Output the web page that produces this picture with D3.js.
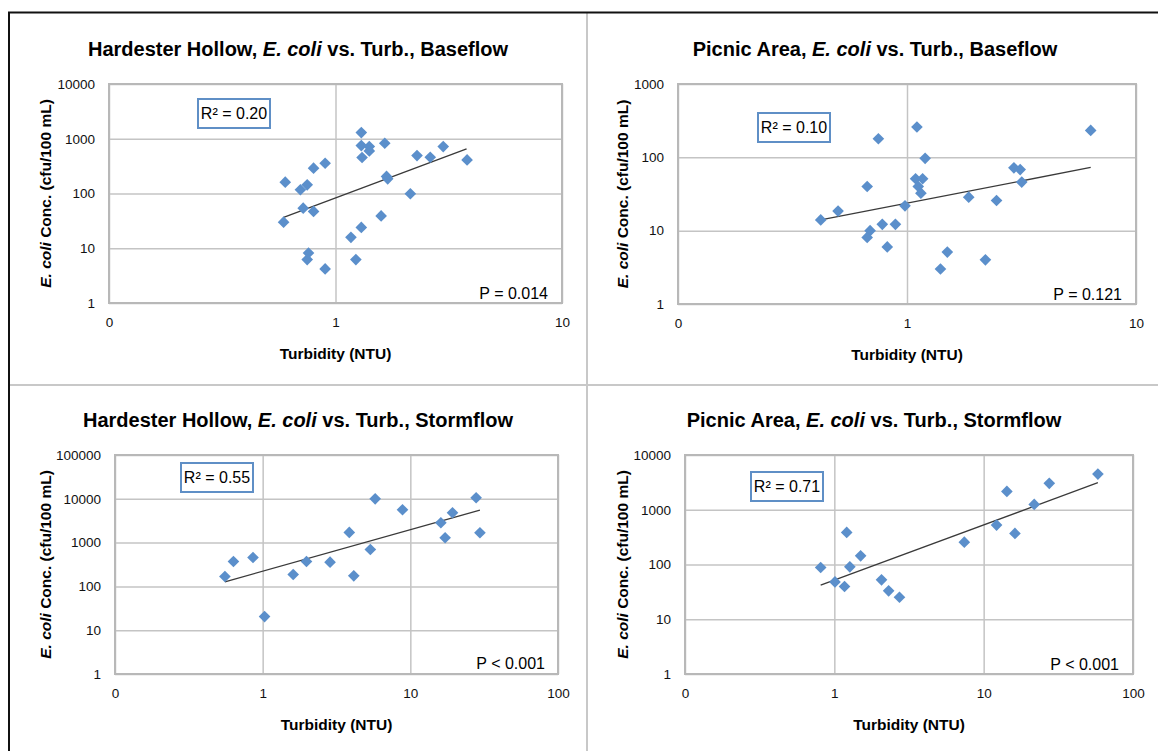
<!DOCTYPE html>
<meta charset="utf-8">
<style>
  body { margin: 0; background: #fff; }
  svg { font-family: "Liberation Sans Narrow", "Arial Narrow", "Liberation Sans", sans-serif; }
  .grid line { stroke: #c4c4c4; stroke-width: 1.5px; }
  .grid path { display: none; }
  .tick text { font-size: 13.5px; fill: #111; }
  .plotframe { fill: none; stroke: #b8b8b8; stroke-width: 2px; }
  .pt { fill: #5b8fcb; }
  .trend { stroke: #3a3a3a; stroke-width: 1.3px; }
  .title { font-size: 20px; font-weight: bold; }
  .axtitle { font-size: 15.5px; font-weight: bold; }
  .note { font-size: 16px; }
  .r2box { fill: #fff; stroke: #5f8fc6; stroke-width: 2px; }
</style>
<body>
<script src="https://cdn.jsdelivr.net/npm/d3@7"></script>
<script>

// Hardester Hollow, baseflow
var hhBaseTurb  = [0.60, 0.59, 0.70, 0.75, 0.72, 0.80, 0.80, 0.90, 0.76, 0.75, 0.90, 1.30, 1.30, 1.31, 1.41, 1.41, 1.65, 1.68, 1.70, 1.59, 1.30, 1.17, 1.23, 2.14, 2.29, 2.62, 2.99, 3.81];
var hhBaseEcoli = [161, 30, 117, 144, 54, 290, 47, 357, 8.2, 6.2, 4.2, 1294, 750, 454, 720, 600, 828, 205, 185, 39, 24, 15.8, 6.2, 99, 493, 460, 720, 411];
var hhBaseTrend = [[0.59, 36.5], [3.79, 653]];

// Picnic Area, baseflow
var paBaseTurb  = [0.42, 0.50, 0.67, 0.75, 0.69, 0.67, 0.78, 0.89, 0.82, 0.98, 1.105, 1.20, 1.09, 1.17, 1.12, 1.15, 1.40, 1.50, 1.86, 2.20, 2.46, 2.93, 3.12, 3.17, 6.34];
var paBaseEcoli = [14, 18.5, 40, 179, 10, 8.1, 12.2, 12.2, 6.0, 21.8, 259, 97, 51, 51, 40, 32.5, 3.0, 5.1, 28.6, 4.0, 25.8, 72, 68, 46, 233];
var paBaseTrend = [[0.42, 14], [6.34, 72.8]];

// Hardester Hollow, stormflow
var hhStormTurb  = [0.555, 0.634, 0.86, 1.03, 1.61, 1.98, 2.86, 3.86, 4.14, 5.36, 5.78, 8.85, 16.1, 17.2, 19.3, 27.9, 29.6];
var hhStormEcoli = [168, 371, 457, 20.5, 187, 371, 357, 1706, 174, 697, 10000, 5623, 2838, 1288, 4797, 10570, 1675];
var hhStormTrend = [[0.555, 127], [29.6, 5520]];

// Picnic Area, stormflow
var paStormTurb  = [0.81, 1.01, 1.17, 1.21, 1.27, 1.50, 2.07, 2.31, 2.73, 7.42, 12.2, 14.3, 16.2, 21.8, 27.5, 58.2];
var paStormEcoli = [88, 48, 39.6, 385, 90.6, 144, 52.5, 33, 25.2, 256, 525, 2163, 369, 1253, 3033, 4488];
var paStormTrend = [[0.81, 41.9], [58.2, 3119]];

// axis ticks
var xTicksBase  = [0.1, 1, 10];
var xLabelsBase = ["0", "1", "10"];
var xTicksStorm  = [0.1, 1, 10, 100];
var xLabelsStorm = ["0", "1", "10", "100"];
var yTicksHHBase  = [1, 10, 100, 1000, 10000];
var yTicksPABase  = [1, 10, 100, 1000];
var yTicksHHStorm = [1, 10, 100, 1000, 10000, 100000];
var yTicksPAStorm = [1, 10, 100, 1000, 10000];

var svg = d3.select("body").append("svg")
  .attr("width", 1158)
  .attr("height", 751);

// outer frame and dividers
svg.append("line").attr("x1", 587).attr("x2", 587).attr("y1", 13).attr("y2", 751)
  .attr("stroke", "#c8c8c8").attr("stroke-width", 2);
svg.append("line").attr("x1", 9).attr("x2", 1158).attr("y1", 385).attr("y2", 385)
  .attr("stroke", "#c8c8c8").attr("stroke-width", 2);
svg.append("line").attr("x1", 8).attr("x2", 1158).attr("y1", 12.5).attr("y2", 12.5)
  .attr("stroke", "#111").attr("stroke-width", 2);
svg.append("line").attr("x1", 9).attr("x2", 9).attr("y1", 12).attr("y2", 751)
  .attr("stroke", "#111").attr("stroke-width", 2);

var panels = [
  { site: "Hardester Hollow, ", flow: " vs. Turb., Baseflow", turb: hhBaseTurb, ecoli: hhBaseEcoli, trend: hhBaseTrend,
    xTicks: xTicksBase, xLabels: xLabelsBase, yTicks: yTicksHHBase, r2: "R\u00b2 = 0.20", p: "P = 0.014",
    x0: 109, x1: 562, y0: 84, y1: 303, cx: 298, ty: 56, yt: 45, box: [198, 99], note: [548, 293] },
  { site: "Picnic Area, ", flow: " vs. Turb., Baseflow", turb: paBaseTurb, ecoli: paBaseEcoli, trend: paBaseTrend,
    xTicks: xTicksBase, xLabels: xLabelsBase, yTicks: yTicksPABase, r2: "R\u00b2 = 0.10", p: "P = 0.121",
    x0: 678, x1: 1136, y0: 84, y1: 304, cx: 875, ty: 56, yt: 622, box: [758, 113], note: [1122, 294] },
  { site: "Hardester Hollow, ", flow: " vs. Turb., Stormflow", turb: hhStormTurb, ecoli: hhStormEcoli, trend: hhStormTrend,
    xTicks: xTicksStorm, xLabels: xLabelsStorm, yTicks: yTicksHHStorm, r2: "R\u00b2 = 0.55", p: "P < 0.001",
    x0: 115, x1: 558, y0: 455, y1: 674, cx: 298, ty: 427, yt: 45, box: [181, 463], note: [545, 663] },
  { site: "Picnic Area, ", flow: " vs. Turb., Stormflow", turb: paStormTurb, ecoli: paStormEcoli, trend: paStormTrend,
    xTicks: xTicksStorm, xLabels: xLabelsStorm, yTicks: yTicksPAStorm, r2: "R\u00b2 = 0.71", p: "P < 0.001",
    x0: 685, x1: 1133, y0: 455, y1: 674, cx: 874, ty: 427, yt: 622, box: [751, 472], note: [1119, 664] }
];

panels.forEach(function(p) {
  var x = d3.scaleLog().domain(d3.extent(p.xTicks)).range([p.x0, p.x1]);
  var y = d3.scaleLog().domain(d3.extent(p.yTicks)).range([p.y1, p.y0]);
  var g = svg.append("g");

  // Title
  var t = g.append("text").attr("class", "title")
    .attr("x", p.cx).attr("y", p.ty).attr("text-anchor", "middle");
  t.append("tspan").text(p.site);
  t.append("tspan").style("font-style", "italic").text("E. coli");
  t.append("tspan").text(p.flow);

  // gridlines + tick labels
  g.append("g").attr("class", "grid")
    .attr("transform", "translate(" + p.x0 + ",0)")
    .call(d3.axisLeft(y).tickValues(p.yTicks).tickFormat(d3.format("d"))
      .tickSize(-(p.x1 - p.x0)).tickPadding(14));
  var xlab = {};
  p.xTicks.forEach(function(v, i) { xlab[v] = p.xLabels[i]; });
  g.append("g").attr("class", "grid")
    .attr("transform", "translate(0," + p.y1 + ")")
    .call(d3.axisBottom(x).tickValues(p.xTicks).tickFormat(function(d) { return xlab[d]; })
      .tickSize(-(p.y1 - p.y0)).tickPadding(14));

  g.append("rect").attr("class", "plotframe")
    .attr("x", p.x0).attr("y", p.y0)
    .attr("width", p.x1 - p.x0).attr("height", p.y1 - p.y0);

  // Axis titles
  g.append("text").attr("class", "axtitle")
    .attr("x", (p.x0 + p.x1) / 2).attr("y", p.y1 + 56)
    .attr("text-anchor", "middle").text("Turbidity (NTU)");
  var yt = g.append("text").attr("class", "axtitle")
    .attr("transform", "translate(" + (p.yt + 6) + "," + ((p.y0 + p.y1) / 2) + ") rotate(-90)")
    .attr("text-anchor", "middle");
  yt.append("tspan").style("font-style", "italic").text("E. coli");
  yt.append("tspan").text(" Conc. (cfu/100 mL)");

  // trend line
  g.append("line").attr("class", "trend")
    .attr("x1", x(p.trend[0][0])).attr("y1", y(p.trend[0][1]))
    .attr("x2", x(p.trend[1][0])).attr("y2", y(p.trend[1][1]));

  // points
  var sym = d3.symbol().type(d3.symbolSquare).size(68);
  g.selectAll(".pt").data(p.turb).enter().append("path")
    .attr("class", "pt")
    .attr("d", sym)
    .attr("transform", function(d, i) {
      return "translate(" + x(d) + "," + y(p.ecoli[i]) + ") rotate(45)";
    });

  // R2 box
  g.append("rect").attr("class", "r2box")
    .attr("x", p.box[0]).attr("y", p.box[1]).attr("width", 72).attr("height", 29);
  g.append("text").attr("class", "note")
    .attr("x", p.box[0] + 36).attr("y", p.box[1] + 20)
    .attr("text-anchor", "middle").text(p.r2);

  // P value
  g.append("text").attr("class", "note")
    .attr("x", p.note[0]).attr("y", p.note[1] + 6)
    .attr("text-anchor", "end").text(p.p);
});

</script>
</body>
